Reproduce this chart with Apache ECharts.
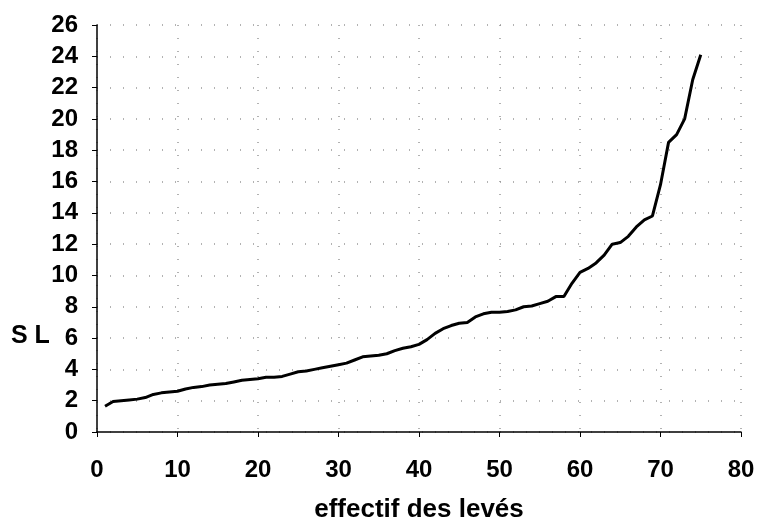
<!DOCTYPE html>
<html>
<head>
<meta charset="utf-8">
<script src="https://cdn.jsdelivr.net/npm/echarts@6/dist/echarts.min.js"></script>
<style>
  html, body { margin: 0; padding: 0; background: #fff; }
  #chart { width: 757px; height: 520px; }
</style>
</head>
<body>
<div id="chart"></div>
<script>
// effectif (rang des levés)
const effectif = []
for (let i = 1; i <= 75; i++) effectif.push(i)

// valeurs SL
const slValues = [
  1.65, 1.95, 2.0, 2.05, 2.1, 2.2, 2.4, 2.5, 2.55, 2.6,
  2.75, 2.85, 2.9, 3.0, 3.05, 3.1, 3.2, 3.3, 3.35, 3.4,
  3.5, 3.5, 3.55, 3.7, 3.85, 3.9, 4.0, 4.1, 4.2, 4.3,
  4.4, 4.6, 4.8, 4.85, 4.9, 5.0, 5.2, 5.35, 5.45, 5.6,
  5.9, 6.3, 6.6, 6.8, 6.95, 7.0, 7.35, 7.55, 7.65, 7.65,
  7.7, 7.8, 8.0, 8.05, 8.2, 8.35, 8.65, 8.65, 9.5, 10.2,
  10.45, 10.8, 11.3, 12.0, 12.1, 12.5, 13.1, 13.55, 13.8, 15.8,
  18.5, 19.0, 20.0, 22.5, 24.1
]

const xTitle = 'effectif des levés'
const yTitle = 'S L'

const font = 'Liberation Sans, Arial, sans-serif'

let chart = echarts.init(document.getElementById('chart'))
let option = {
  animation: false,
  grid: {
    top: 25,
    left: 97,
    right: 16,
    bottom: 88,
    containLabel: false,
    outerBoundsMode: 'none',
  },
  graphic: [
    {
      type: 'text',
      left: 11,
      top: 324,
      style: {
        text: yTitle,
        font: 'bold 25px ' + font,
        fill: '#000',
      },
    },
  ],
  xAxis: {
    type: 'value',
    min: 0,
    max: 80,
    interval: 10,
    name: xTitle,
    nameLocation: 'middle',
    nameGap: 65,
    nameTextStyle: {
      color: '#000',
      fontWeight: 'bold',
      fontSize: 26,
      fontFamily: font,
    },
    axisLine: {
      onZero: false,
      lineStyle: { color: '#000', width: 1.5 },
    },
    axisTick: {
      show: true,
      inside: false,
      length: 5,
      lineStyle: { color: '#000' },
    },
    axisLabel: {
      color: '#000',
      fontWeight: 'bold',
      fontSize: 24,
      fontFamily: font,
      margin: 26,
    },
    splitLine: {
      show: true,
      lineStyle: { color: '#999', type: [1, 12], width: 1.5 },
    },
  },
  yAxis: {
    type: 'value',
    min: 0,
    max: 26,
    interval: 2,
    axisLine: {
      show: true,
      lineStyle: { color: '#000', width: 1.5 },
    },
    axisTick: {
      show: true,
      inside: false,
      length: 5,
      lineStyle: { color: '#000' },
    },
    axisLabel: {
      color: '#000',
      fontWeight: 'bold',
      fontSize: 24,
      fontFamily: font,
      margin: 19,
    },
    splitLine: {
      show: true,
      lineStyle: { color: '#999', type: [1, 12], width: 1.5 },
    },
  },
  series: [
    {
      type: 'line',
      data: effectif.map((x, i) => [x, slValues[i]]),
      showSymbol: false,
      smooth: false,
      lineStyle: { color: '#000', width: 3 },
    },
  ],
}
chart.setOption(option)
</script>
</body>
</html>
